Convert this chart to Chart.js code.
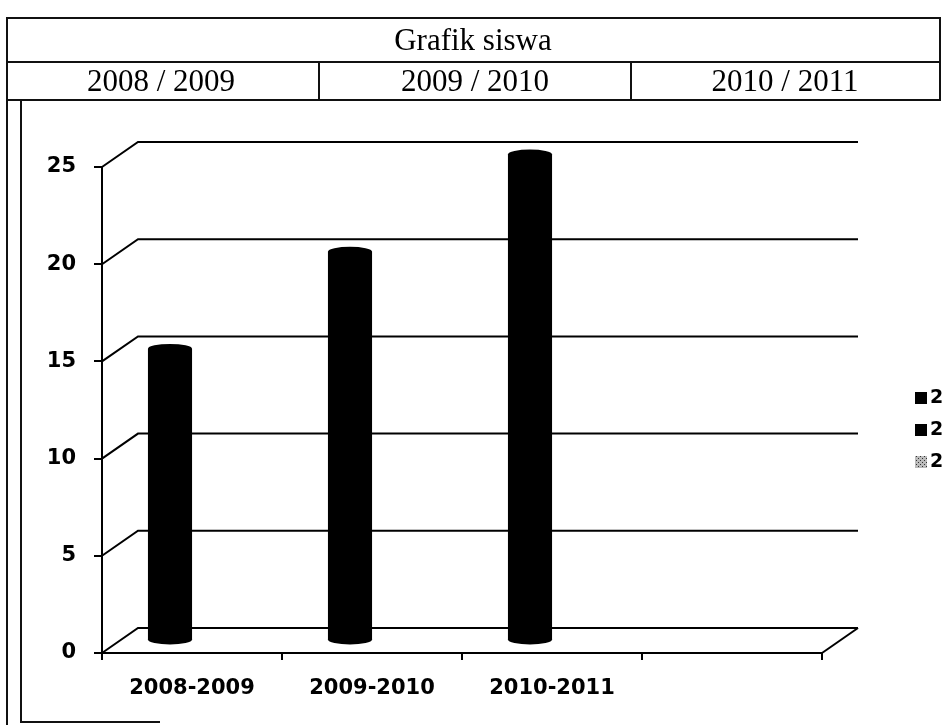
<!DOCTYPE html>
<html>
<head>
<meta charset="utf-8">
<script src="https://cdn.jsdelivr.net/npm/chart.js@4.4.0/dist/chart.umd.min.js"></script>
<style>
  html, body { margin: 0; padding: 0; width: 947px; height: 725px; overflow: hidden; background: #fff; }
  #chart { position: absolute; left: 0; top: 0; }
  .ln { position: absolute; background: #111; }
  .txt { position: absolute; font-family: "Liberation Serif", "Times New Roman", serif; font-size: 31px; color: #000; text-align: center; line-height: 1; }
</style>
</head>
<body>
<canvas id="chart" width="947" height="725"></canvas>
<div id="table"></div>
<script>
// header table text
const headerTitle = "Grafik siswa";
const headerYears = ["2008 / 2009", "2009 / 2010", "2010 / 2011"];

// chart data
const categories = ["2008-2009", "2009-2010", "2010-2011", ""];
const siswa = [15, 20, 25, null];
const legendLabels = ["2008-2009", "2009-2010", "2010-2011"];
const yMax = 25;
const yStep = 5;

// 3d look
const DX = 36;
const DY = 25;
const BAR_SHIFT = -40;
const RY = 5;

// --- table made of plain divs ---
const table = document.getElementById("table");
function line(x, y, w, h) {
  const d = document.createElement("div");
  d.className = "ln";
  d.style.cssText = `left:${x}px;top:${y}px;width:${w}px;height:${h}px`;
  table.appendChild(d);
}
function text(str, cx, cy, w) {
  const d = document.createElement("div");
  d.className = "txt";
  d.textContent = str;
  d.style.cssText = `left:${cx - w / 2}px;top:${cy - 16}px;width:${w}px`;
  table.appendChild(d);
}
line(6, 17, 935, 2);     // top
line(6, 61, 935, 2);     // row divider
line(6, 99, 935, 2);     // row bottom
line(6, 17, 2, 708);     // outer left
line(939, 17, 2, 84);    // outer right
line(318, 61, 2, 40);
line(630, 61, 2, 40);
line(20, 99, 2, 624);    // chart box left
line(20, 721, 140, 2);   // chart box bottom

text(headerTitle, 473, 40, 400);
const colCenters = [161, 475, 785];
headerYears.forEach((y, i) => text(y, colCenters[i], 81, 300));

// --- chart ---
const tick = { color: "#000", font: { family: "DejaVu Sans", weight: "bold", size: 21 } };

const pattern = (() => {
  const c = document.createElement("canvas");
  c.width = 4; c.height = 4;
  const g = c.getContext("2d");
  g.fillStyle = "#bbb"; g.fillRect(0, 0, 4, 4);
  g.fillStyle = "#333"; g.fillRect(0, 0, 1, 1); g.fillRect(2, 2, 1, 1);
  return c;
})();

const depth3d = {
  id: "depth3d",
  beforeDatasetsDraw(chart) {
    const { ctx, chartArea: a, scales: { y } } = chart;
    ctx.save();
    ctx.strokeStyle = "#000";
    ctx.lineWidth = 2;
    y.ticks.forEach((t) => {
      const py = y.getPixelForValue(t.value);
      ctx.beginPath();
      ctx.moveTo(a.left, py);
      ctx.lineTo(a.left + DX, py - DY);
      ctx.lineTo(a.right + DX, py - DY);
      ctx.stroke();
    });
    ctx.beginPath();
    ctx.moveTo(a.right, a.bottom);
    ctx.lineTo(a.right + DX, a.bottom - DY);
    ctx.stroke();
    ctx.restore();
  },
  afterDatasetsDraw(chart) {
    const ctx = chart.ctx;
    const values = chart.data.datasets[0].data;
    ctx.save();
    ctx.fillStyle = "#000";
    chart.getDatasetMeta(0).data.forEach((bar, i) => {
      if (values[i] == null) return;
      const cx = bar.x + BAR_SHIFT + DX / 2;
      const w = bar.width;
      const top = bar.y - DY / 2;
      const bottom = bar.base - DY / 2;
      ctx.fillRect(cx - w / 2, top, w, bottom - top);
      ctx.beginPath();
      ctx.ellipse(cx, top, w / 2, RY, 0, 0, Math.PI * 2);
      ctx.fill();
      ctx.beginPath();
      ctx.ellipse(cx, bottom, w / 2, RY, 0, 0, Math.PI * 2);
      ctx.fill();
    });
    ctx.restore();
  },
  afterDraw(chart) {
    const ctx = chart.ctx;
    ctx.save();
    // the scanned page stops just after the first character
    ctx.beginPath();
    ctx.rect(0, 0, 943, 725);
    ctx.clip();
    ctx.font = "bold 19px 'DejaVu Sans'";
    ctx.textBaseline = "middle";
    legendLabels.forEach((lab, i) => {
      const y = 398 + i * 32;
      ctx.fillStyle = i === 2 ? ctx.createPattern(pattern, "repeat") : "#000";
      ctx.fillRect(915, y - 6, 12, 12);
      ctx.fillStyle = "#000";
      ctx.fillText(lab, 930, y);
    });
    ctx.restore();
  },
};

new Chart(document.getElementById("chart"), {
  type: "bar",
  data: {
    labels: categories,
    datasets: [
      {
        data: siswa,
        backgroundColor: "rgba(0,0,0,0)",
        borderWidth: 0,
        categoryPercentage: 1,
        barPercentage: 0.245,
      },
    ],
  },
  options: {
    responsive: false,
    animation: false,
    layout: { padding: { left: 0, top: 167, right: 125, bottom: 0 } },
    plugins: {
      legend: { display: false },
      tooltip: { enabled: false },
    },
    scales: {
      x: {
        offset: true,
        grid: { offset: true, drawOnChartArea: false, color: "#000", lineWidth: 2, tickLength: 7 },
        border: { color: "#000", width: 2 },
        ticks: { ...tick, padding: 16, maxRotation: 0, autoSkip: false },
        afterFit: (s) => { s.height = 72; },
      },
      y: {
        min: 0,
        max: yMax,
        grid: { drawOnChartArea: false, color: "#000", lineWidth: 2, tickLength: 8 },
        border: { color: "#000", width: 2 },
        ticks: { ...tick, stepSize: yStep, padding: 18 },
        afterFit: (s) => { s.width = 102; },
      },
    },
  },
  plugins: [depth3d],
});
</script>
</body>
</html>
